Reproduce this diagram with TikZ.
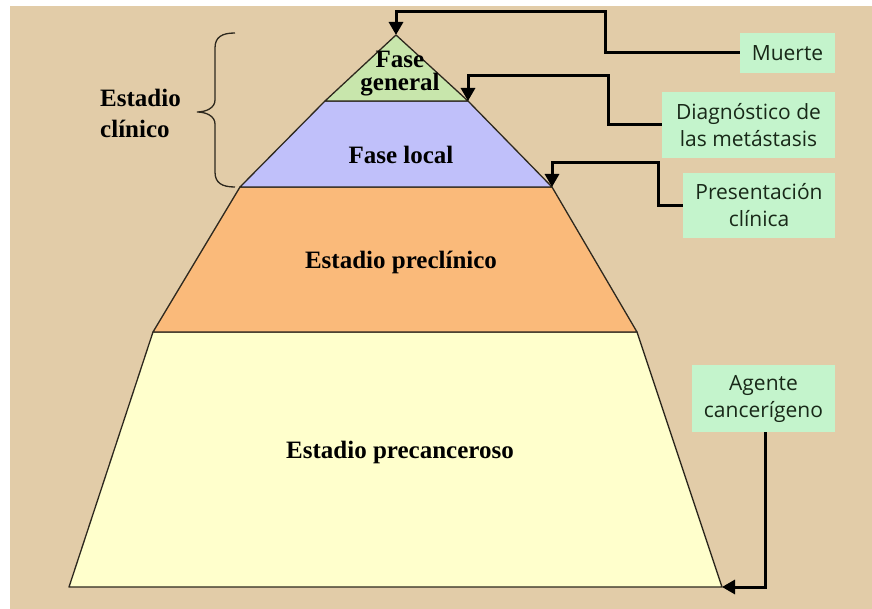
\documentclass[tikz,border=0pt]{standalone}
\usepackage{fontspec}
\setmainfont{Liberation Serif}
\newfontfamily\labelfont{Open Sans}
\usetikzlibrary{arrows.meta}
\definecolor{parch}{RGB}{226,204,168}
\definecolor{topgreen}{RGB}{200,230,172}
\definecolor{lav}{RGB}{192,192,250}
\definecolor{orng}{RGB}{250,186,122}
\definecolor{cream}{RGB}{255,255,204}
\definecolor{lblgreen}{RGB}{196,244,204}
\definecolor{lbltext}{RGB}{24,40,24}
\definecolor{outline}{RGB}{45,40,30}
\tikzset{
  layer/.style={draw=outline, line width=1.3pt, line join=round},
  stagetext/.style={font=\fontsize{25}{25}\selectfont\bfseries, text=black, align=center, inner sep=0pt},
  lbl/.style={fill=lblgreen, font=\labelfont\fontsize{21}{27}\selectfont, text=lbltext, align=center, inner sep=0pt},
  conn/.style={draw=black, line width=3pt, -{Triangle[width=14pt,length=13pt]}}
}
\begin{document}
\begin{tikzpicture}[x=1pt,y=-1pt]
\useasboundingbox (0,0) rectangle (872,609);
\fill[white] (0,0) rectangle (872,609);
\fill[parch] (10,6) rectangle (872,609);

% pyramid corners
\coordinate (apex) at (396,35);
\coordinate (gL) at (325,101);
\coordinate (gR) at (468,101);
\coordinate (bL) at (240,187);
\coordinate (bR) at (552,187);
\coordinate (oL) at (153,332);
\coordinate (oR) at (637,332);
\coordinate (yL) at (69,587);
\coordinate (yR) at (722,587);

\filldraw[layer, fill=cream] (oL) -- (oR) -- (yR) -- (yL) -- cycle;
\filldraw[layer, fill=orng] (bL) -- (bR) -- (oR) -- (oL) -- cycle;
\filldraw[layer, fill=lav] (gL) -- (gR) -- (bR) -- (bL) -- cycle;
\filldraw[layer, fill=topgreen] (apex) -- (gR) -- (gL) -- cycle;

% stage texts
\node[stagetext, font=\fontsize{25}{23}\selectfont\bfseries] (fg) at (400,74) {Fase\\general};
\node[stagetext] (fl) at (401,155) {Fase local};
\node[stagetext] (pc) at (401,262) {Estadio preclínico};
\node[stagetext] (pk) at (400,452) {Estadio precanceroso};
\node[stagetext, align=left, anchor=west] (ec) at (100,113) {Estadio\\[6pt]clínico};

% brace
\draw[line width=1.3pt, outline] (235,33) .. controls (222,33) and (215,37) .. (215,48)
  -- (215,100) .. controls (215,108) and (206,112) .. (197,112)
  .. controls (206,112) and (215,116) .. (215,124)
  -- (215,172) .. controls (215,183) and (222,187) .. (235,187);

% labels
\node[lbl, minimum width=95pt, minimum height=40pt] (mu) at (787.5,53) {Muerte};
\node[lbl, minimum width=173pt, minimum height=66pt] (dm) at (748.5,125) {Diagnóstico de\\las metástasis};
\node[lbl, minimum width=152pt, minimum height=65pt] (pr) at (759,205.5) {Presentación\\clínica};
\node[lbl, minimum width=143pt, minimum height=67pt] (ag) at (763.5,398.5) {Agente\\cancerígeno};

% bend points
\coordinate (m1) at (605,12);
\coordinate (d1) at (608,76);
\coordinate (p1) at (658,163);
\coordinate (a1) at (765,587);

\draw[conn] (mu.west) -| (m1) -| (apex);
\draw[conn] (dm.west) -| (d1) -| (gR);
\draw[conn] (pr.west) -| (p1) -| (bR);
\draw[conn] (ag.south -| a1) -- (a1) -- (yR);
\end{tikzpicture}
\end{document}
